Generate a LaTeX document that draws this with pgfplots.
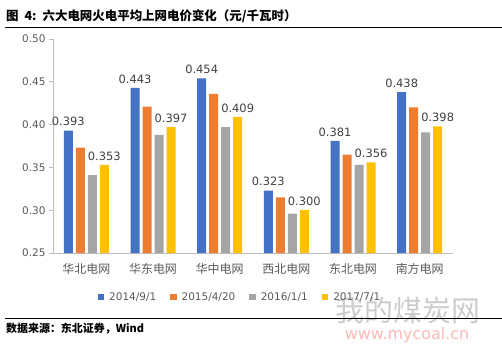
\documentclass[border=0pt]{standalone}
\usepackage{fontspec}
\usepackage{pgfplots}
\pgfplotsset{compat=1.18}
\setmainfont{DejaVu Sans}
\newfontfamily\cjk{Noto Sans CJK SC}
\definecolor{cBlue}{HTML}{4472C4}
\definecolor{cOrange}{HTML}{ED7D31}
\definecolor{cGray}{HTML}{A5A5A5}
\definecolor{cYellow}{HTML}{FFC000}
\definecolor{tickgray}{HTML}{595959}
\definecolor{axgray}{HTML}{BFBFBF}
\definecolor{lblgray}{HTML}{404040}
\begin{document}
\begin{tikzpicture}[x=1bp,y=1bp]
\useasboundingbox (0,0) rectangle (502,352);
% watermark
\node[text=black!20, font=\cjk\fontsize{29}{30}\selectfont] at (408,41) {我的煤炭网};
\node[text=red!28, font=\fontsize{16}{17}\selectfont] at (407,17) {www.mycoal.cn};
% title
\node[anchor=west, inner sep=0, font=\cjk\bfseries\fontsize{12.5}{14}\selectfont] at (6,336) {图\hspace{6bp}4:\hspace{6bp}六大电网火电平均上网电价变化（元/千瓦时）};
\draw[black, line width=0.9bp] (5,324.5) -- (502,324.5);
\draw[black, line width=0.9bp] (5,34) -- (502,34);
\node[anchor=west, inner sep=0, font=\cjk\bfseries\fontsize{11}{12}\selectfont] at (6,23) {数据来源：东北证券，Wind};
\begin{axis}[
  at={(53bp,99bp)}, anchor=south west,
  scale only axis, width=400bp, height=214bp,
  xmin=-0.5, xmax=5.5, ymin=0.25, ymax=0.50,
  ytick={0.25,0.30,...,0.51},
  yticklabel style={text=tickgray, font=\fontsize{10.5}{12}\selectfont, /pgf/number format/fixed, /pgf/number format/precision=2, /pgf/number format/fixed zerofill, /pgf/number format/assume math mode=true},
  xtick={0,1,2,3,4,5},
  xticklabels={华北电网,华东电网,华中电网,西北电网,东北电网,南方电网},
  xticklabel style={text=tickgray, font=\cjk\fontsize{12}{13}\selectfont, yshift=-3bp},
  minor xtick={0.5,1.5,2.5,3.5,4.5,5.5},
  xtick style={draw=none},
  minor x tick style={axgray, line width=0.8bp},
  major tick length=4bp, minor tick length=4bp,
  tick align=outside,
  ytick style={axgray, line width=0.8bp},
  axis x line*=bottom, axis y line*=left,
  axis line style={axgray, line width=0.8bp},
  ybar, bar width=0.135,
  every node near coord/.append style={text=lblgray, font=\fontsize{11.5}{13}\selectfont, /pgf/number format/fixed, /pgf/number format/precision=3, /pgf/number format/fixed zerofill, /pgf/number format/assume math mode=true, yshift=1bp},
  legend columns=4,
  legend style={at={(0.4675,-0.2056)}, anchor=center, draw=none, fill=none, font=\fontsize{10.5}{12}\selectfont, text=tickgray,
    /tikz/every odd column/.append style={column sep=3bp},
    /tikz/every even column/.append style={column sep=12bp},
    nodes={inner xsep=2bp}},
  legend image code/.code={\fill[#1] (0bp,-3bp) rectangle (6.5bp,3.5bp);},
]
\addplot[fill=cBlue, draw=none, bar shift=-0.27, nodes near coords] coordinates {(0,0.393) (1,0.443) (2,0.454) (3,0.323) (4,0.381) (5,0.438)};
\addplot[fill=cOrange, draw=none, bar shift=-0.09] coordinates {(0,0.373) (1,0.421) (2,0.436) (3,0.315) (4,0.365) (5,0.420)};
\addplot[fill=cGray, draw=none, bar shift=0.09] coordinates {(0,0.341) (1,0.388) (2,0.397) (3,0.296) (4,0.353) (5,0.391)};
\addplot[fill=cYellow, draw=none, bar shift=0.27, nodes near coords] coordinates {(0,0.353) (1,0.397) (2,0.409) (3,0.300) (4,0.356) (5,0.398)};
\legend{2014/9/1,2015/4/20,2016/1/1,2017/7/1}
\end{axis}
\end{tikzpicture}
\end{document}
